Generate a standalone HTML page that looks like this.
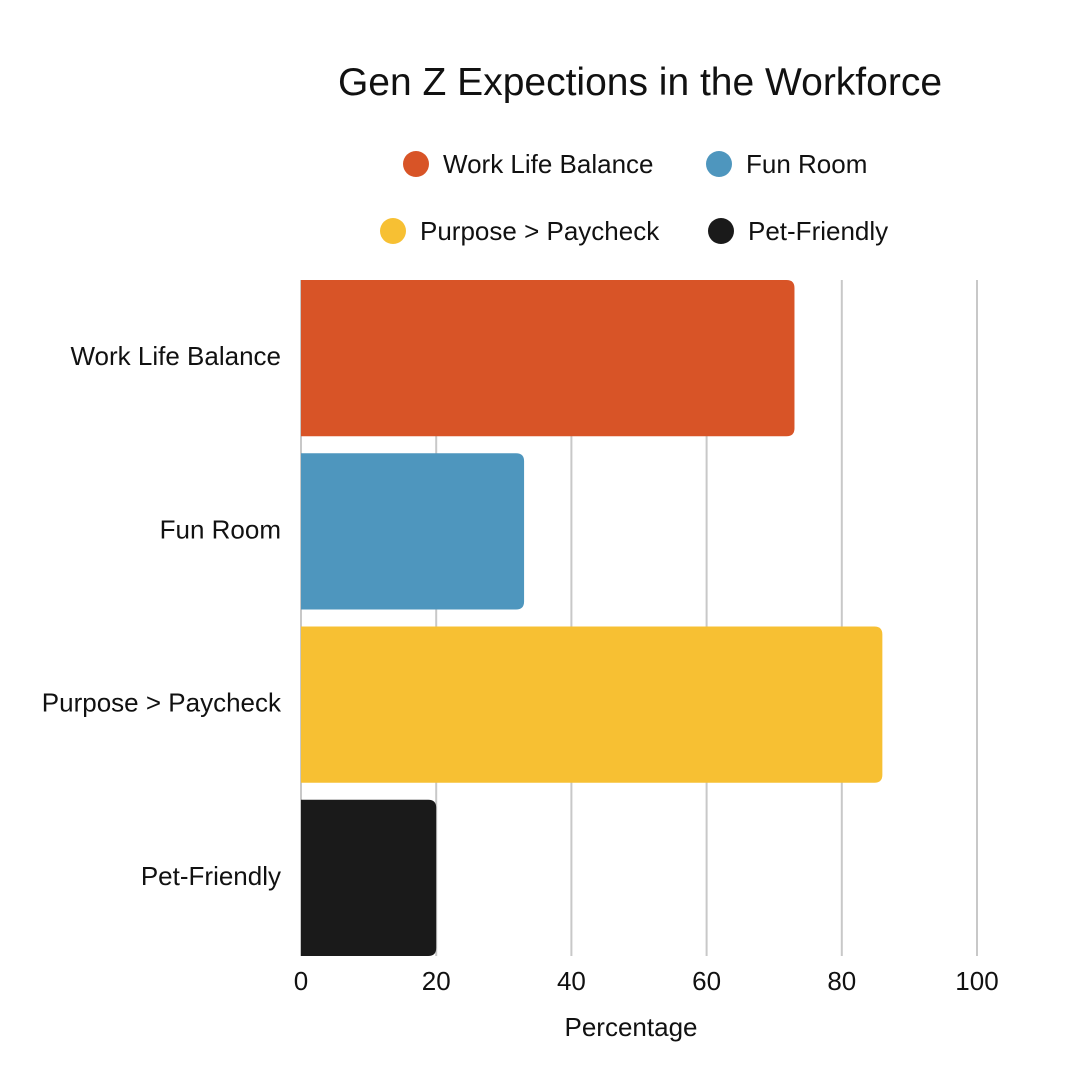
<!DOCTYPE html>
<html><head><meta charset="utf-8"><style>
body{margin:0;background:#fff;}
svg{display:block;font-family:"Liberation Sans",Arial,sans-serif;}
</style></head><body>
<svg id="chart" width="1080" height="1080" viewBox="0 0 1080 1080">
<rect width="1080" height="1080" fill="#fff"/>
<text x="640" y="95" text-anchor="middle" font-size="39" fill="#111">Gen Z Expections in the Workforce</text>
<g id="legend"></g>
<g id="grid"></g>
<g id="bars"></g>
<g id="labels"></g>
<g id="ticks"></g>
<text x="631" y="1036" text-anchor="middle" font-size="26" fill="#111">Percentage</text>
</svg>
<script>
const categories=["Work Life Balance","Fun Room","Purpose > Paycheck","Pet-Friendly"];
const values=[73,33,86,20];
const colors=["#d85427","#4e96be","#f7c033","#1a1a1a"];
const tickValues=[0,20,40,60,80,100];
const NS="http://www.w3.org/2000/svg";
const x0=301,pxPer=6.76,plotTop=271.5,band=173.25,pad=8.5;
function xs(v){return x0+v*pxPer;}
function yb(i){return plotTop+i*band;}
function mk(t,a,p){const e=document.createElementNS(NS,t);for(const k in a)e.setAttribute(k,a[k]);p.appendChild(e);return e;}
const grid=document.getElementById('grid'),bars=document.getElementById('bars'),labels=document.getElementById('labels'),ticks=document.getElementById('ticks'),legend=document.getElementById('legend');
tickValues.forEach(v=>{
 const l=mk('line',{x1:xs(v),x2:xs(v),y1:280,y2:956,stroke:'#c8c8c8','stroke-width':2},grid);
 
 
 const t=mk('text',{x:xs(v),y:990,'text-anchor':'middle','font-size':26,fill:'#111'},ticks);
 t.textContent=v;
 
 
});
categories.forEach((c,i)=>{
 const y=yb(i)+pad,h=band-2*pad,w=xs(values[i])-x0,r=8;
 const p=mk('path',{d:`M${x0},${y}H${x0+w-r}Q${x0+w},${y} ${x0+w},${y+r}V${y+h-r}Q${x0+w},${y+h} ${x0+w-r},${y+h}H${x0}Z`,fill:colors[i]},bars);
 
 
 const t=mk('text',{x:281,y:yb(i)+band/2+7,'text-anchor':'end','font-size':26,fill:'#111'},labels);
 t.textContent=c;
 
 
});
const legPos=[[416,164],[719,164],[393,231],[721,231]];
categories.forEach((c,i)=>{
 const [cx,cy]=legPos[i];
 const g=mk('g',{},legend);
 
 
 mk('circle',{cx:cx,cy:cy,r:13,fill:colors[i]},g);
 const t=mk('text',{x:cx+27,y:cy+9,'font-size':26,fill:'#111'},g);
 t.textContent=c;
});
</script>
</body></html>
